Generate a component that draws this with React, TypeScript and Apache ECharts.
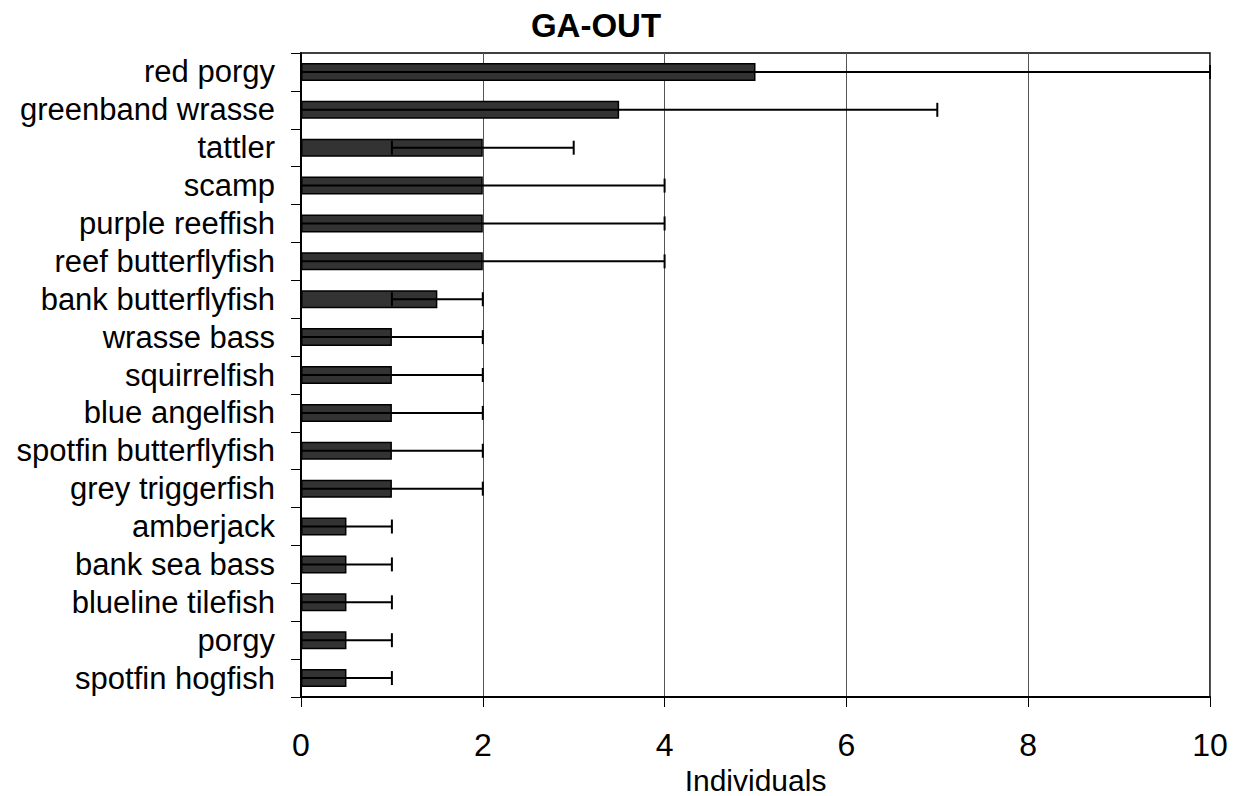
import React, { useEffect, useRef } from "react";
import * as echarts from "echarts";

const species = [
  "red porgy",
  "greenband wrasse",
  "tattler",
  "scamp",
  "purple reeffish",
  "reef butterflyfish",
  "bank butterflyfish",
  "wrasse bass",
  "squirrelfish",
  "blue angelfish",
  "spotfin butterflyfish",
  "grey triggerfish",
  "amberjack",
  "bank sea bass",
  "blueline tilefish",
  "porgy",
  "spotfin hogfish",
];

// mean individuals per species
const meanCount = [5, 3.5, 2, 2, 2, 2, 1.5, 1, 1, 1, 1, 1, 0.5, 0.5, 0.5, 0.5, 0.5];
// symmetric error around each mean
const errorAmount = [5, 3.5, 1, 2, 2, 2, 0.5, 1, 1, 1, 1, 1, 0.5, 0.5, 0.5, 0.5, 0.5];

const xTicks = [0, 2, 4, 6, 8, 10];

const FONT = "'Liberation Sans', Arial, sans-serif";

export default function App() {
  const ref = useRef<HTMLDivElement>(null);

  useEffect(() => {
    document.body.style.margin = "0";
    if (!ref.current) return;
    const chart = echarts.init(ref.current, null, { renderer: "svg" });

    const errorData = species.map((_, i) => [
      i,
      meanCount[i] - errorAmount[i],
      meanCount[i] + errorAmount[i],
    ]);

    chart.setOption({
      animation: false,
      backgroundColor: "#fff",
      textStyle: { fontFamily: FONT },
      graphic: [
        {
          type: "text",
          x: 596,
          y: 9,
          style: {
            text: "GA-OUT",
            fontFamily: FONT,
            fontSize: 33,
            fontWeight: "bold",
            fill: "#000",
            textAlign: "center",
            textVerticalAlign: "top",
          },
        },
      ],
      grid: {
        left: 301,
        right: 25,
        top: 53,
        bottom: 99,
        outerBoundsMode: "none",
        containLabel: false,
        show: true,
        borderColor: "#000",
        borderWidth: 1.5,
        backgroundColor: "transparent",
      },
      xAxis: {
        type: "value",
        min: xTicks[0],
        max: xTicks[xTicks.length - 1],
        interval: 2,
        name: "Individuals",
        nameLocation: "middle",
        nameGap: 60,
        nameTextStyle: { fontSize: 30, lineHeight: 30, color: "#000", fontFamily: FONT },
        axisLine: { show: true, lineStyle: { color: "#000", width: 2 } },
        axisTick: { show: true, length: 10, lineStyle: { color: "#000", width: 1 } },
        axisLabel: { fontSize: 32, color: "#000", margin: 32, fontFamily: FONT },
        splitLine: { show: true, lineStyle: { color: "#555", width: 1 } },
      },
      yAxis: {
        type: "category",
        data: species,
        inverse: true,
        axisLine: { show: true, lineStyle: { color: "#000", width: 2 } },
        axisTick: {
          show: true,
          length: 10,
          alignWithLabel: false,
          lineStyle: { color: "#000", width: 1 },
        },
        axisLabel: {
          fontSize: 31,
          color: "#000",
          margin: 26,
          interval: 0,
          fontFamily: FONT,
        },
        splitLine: { show: false },
      },
      series: [
        {
          type: "bar",
          data: meanCount,
          barWidth: 18,
          itemStyle: { color: "#333333", borderColor: "#000", borderWidth: 1.5 },
          z: 2,
        },
        {
          type: "custom",
          data: errorData,
          z: 3,
          renderItem: (params: any, api: any) => {
            const cat = api.value(0);
            const lo = api.coord([api.value(1), cat]);
            const hi = api.coord([api.value(2), cat]);
            const cap = 7;
            const style = { stroke: "#000", lineWidth: 2 };
            return {
              type: "group",
              children: [
                { type: "line", shape: { x1: lo[0], y1: lo[1], x2: hi[0], y2: hi[1] }, style },
                { type: "line", shape: { x1: lo[0], y1: lo[1] - cap, x2: lo[0], y2: lo[1] + cap }, style },
                { type: "line", shape: { x1: hi[0], y1: hi[1] - cap, x2: hi[0], y2: hi[1] + cap }, style },
              ],
            };
          },
        },
      ],
    });

    return () => chart.dispose();
  }, []);

  return <div ref={ref} style={{ width: 1235, height: 796 }} />;
}
